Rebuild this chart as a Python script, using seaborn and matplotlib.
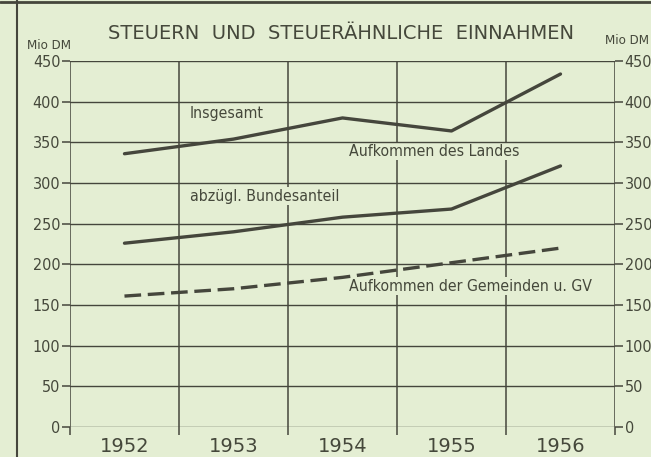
import matplotlib
matplotlib.use("Agg")
import matplotlib.pyplot as plt
import seaborn as sns
import pandas as pd
from matplotlib.lines import Line2D

years = ["1952", "1953", "1954", "1955", "1956"]
insgesamt = [336, 354, 380, 364, 434]
landes = [226, 240, 258, 268, 321]
gemeinden = [161, 170, 184, 202, 220]
yticks = [0, 50, 100, 150, 200, 250, 300, 350, 400, 450]

BG = "#e4eed3"
INK = "#45463c"
TXT = "#45483b"

sns.set_theme(style="white")
plt.rcParams["font.family"] = ["DejaVu Sans"]

df = pd.DataFrame({
    "pos": list(range(len(years))) * 3,
    "wert": insgesamt + landes + gemeinden,
    "reihe": ["Insgesamt"] * 5 + ["Landes"] * 5 + ["Gemeinden"] * 5,
})

fig = plt.figure(figsize=(6.51, 4.57), dpi=100, facecolor=BG)
ax = fig.add_axes([0.1075, 0.0656, 0.8372, 0.8009], facecolor=BG)

sns.lineplot(data=df, x="pos", y="wert", hue="reihe", style="reihe",
             palette={"Insgesamt": INK, "Landes": INK, "Gemeinden": INK},
             dashes={"Insgesamt": "", "Landes": "", "Gemeinden": (5, 2)},
             linewidth=2.4, legend=False, ax=ax, zorder=3)

ax.set_xlim(-0.5, 4.5)
ax.set_ylim(0, 450)
ax.set_xlabel("")
ax.set_ylabel("")

# grid
for b in [-0.5, 0.5, 1.5, 2.5, 3.5, 4.5]:
    ax.axvline(b, color=INK, lw=1.1, zorder=1)
for v in yticks:
    ax.axhline(v, color=INK, lw=1.0, zorder=1.5)

for s in ax.spines.values():
    s.set_visible(False)

ax.set_yticks(yticks)
ax.set_yticklabels([str(v) for v in yticks])
ax.tick_params(axis="y", which="both", left=True, right=True, labelleft=True,
               labelright=True, length=6, width=1.1, color=INK, labelcolor=TXT,
               labelsize=11.5, pad=1)
for lab in ax.get_yticklabels():
    lab.set_fontstretch("condensed")

ax.set_xticks([-0.5, 0.5, 1.5, 2.5, 3.5, 4.5], minor=False)
ax.set_xticklabels([])
ax.tick_params(axis="x", which="major", bottom=True, length=6, width=1.1, color=INK)
ax.set_xticks(range(len(years)), minor=True)
ax.set_xticklabels(years, minor=True)
ax.tick_params(axis="x", which="minor", bottom=False, labelsize=14,
               labelcolor=TXT, pad=3)

# annotations (boxes interrupt vertical grid lines, horizontal ones drawn above)
box = dict(facecolor=BG, edgecolor="none", pad=1.0)
kw = dict(fontsize=11.3, color=TXT, fontstretch="condensed", va="center", bbox=box, zorder=1.2)
ax.text(0.6, 385, "Insgesamt", **kw)
ax.text(0.6, 284, "abzügl. Bundesanteil", **kw)
ax.text(2.06, 339, "Aufkommen des Landes", **kw)
ax.text(2.06, 173, "Aufkommen der Gemeinden u. GV", **kw)

fig.text(0.524, 0.927, "STEUERN  UND  STEUERÄHNLICHE  EINNAHMEN",
         ha="center", va="center", fontsize=14, color=TXT)
fig.text(0.042, 0.9, "Mio DM", ha="left", va="center", fontsize=9.5, color=TXT, fontstretch="condensed")
fig.text(0.93, 0.912, "Mio DM", ha="left", va="center", fontsize=9.5, color=TXT, fontstretch="condensed")

# frame lines of the original sheet
fig.add_artist(Line2D([0.026, 0.026], [0, 1], color=INK, lw=1.5, transform=fig.transFigure))
fig.add_artist(Line2D([0, 1], [0.995, 0.995], color=INK, lw=2, transform=fig.transFigure))

fig.savefig("out.png", dpi=100, facecolor=BG)
